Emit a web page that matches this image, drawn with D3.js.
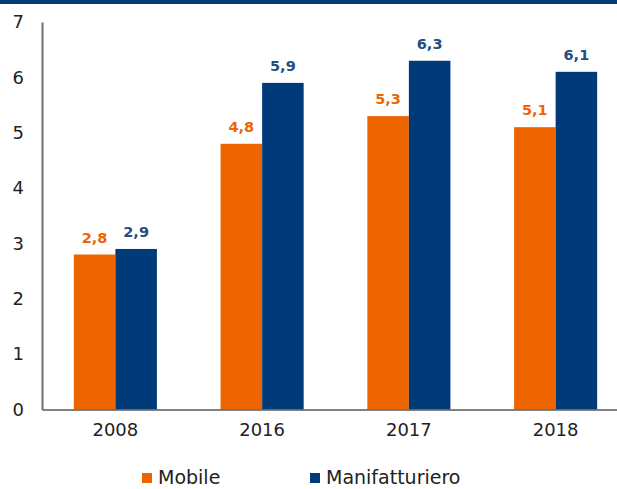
<!DOCTYPE html>
<html>
<head>
<meta charset="utf-8">
<script src="https://cdn.jsdelivr.net/npm/d3@7"></script>
<style>
  body { margin: 0; background: #fff; }
  svg text { font-family: "DejaVu Sans", sans-serif; }
</style>
</head>
<body>
<div id="chart"></div>
<script>
const WIDTH = 617;
const HEIGHT = 489;
const MARGINS = {left: 42, right: -12, top: 22, bottom: 79};

// data
const years = ["2008", "2016", "2017", "2018"];
const series = ["Mobile", "Manifatturiero"];
const mobile = [2.8, 4.8, 5.3, 5.1];
const manifatturiero = [2.9, 5.9, 6.3, 6.1];
const yTicks = [0, 1, 2, 3, 4, 5, 6, 7];

const COLORS = {Mobile: "#ee6500", Manifatturiero: "#003a78"};
const LABEL_COLORS = {Mobile: "#ee6500", Manifatturiero: "#244e7e"};

const svg = d3.select("#chart")
  .append("svg")
    .attr("width", WIDTH)
    .attr("height", HEIGHT);

// navy band across the top
svg.append("rect")
  .attr("x", 0).attr("y", 0)
  .attr("width", WIDTH).attr("height", 4)
  .attr("fill", "#003a78");

const X_SCALE = d3.scaleBand()
  .domain(years)
  .range([MARGINS.left, WIDTH - MARGINS.right]);

const X_INNER = d3.scaleBand()
  .domain(series)
  .range([0, X_SCALE.bandwidth() * 0.566]);

const Y_SCALE = d3.scaleLinear()
  .domain([0, 7])
  .range([HEIGHT - MARGINS.bottom - 0.5, MARGINS.top]);

// y axis
const yAxis = svg.append("g")
  .attr("transform", "translate(" + MARGINS.left + ",0)")
  .call(d3.axisLeft(Y_SCALE).tickValues(yTicks).tickFormat(d3.format("d"))
    .tickSize(0).tickPadding(18));
yAxis.select(".domain").attr("stroke", "#6f6f6f").attr("stroke-width", 2);
yAxis.selectAll("text")
  .attr("font-size", "18px")
  .attr("fill", "#222");

// bars, grouped by year
const rows = years.map((y, i) => ({year: y, Mobile: mobile[i], Manifatturiero: manifatturiero[i]}));

const groups = svg.selectAll(".grp")
  .data(rows)
  .enter()
  .append("g")
    .attr("class", "grp")
    .attr("transform", (d) => "translate(" +
      (X_SCALE(d.year) + (X_SCALE.bandwidth() - X_INNER.range()[1]) / 2) + ",0)");

groups.selectAll("rect")
  .data((d) => series.map((s) => ({key: s, value: d[s]})))
  .enter()
  .append("rect")
    .attr("x", (d) => X_INNER(d.key))
    .attr("y", (d) => Y_SCALE(d.value))
    .attr("width", X_INNER.bandwidth())
    .attr("height", (d) => Y_SCALE(0) - Y_SCALE(d.value))
    .attr("fill", (d) => COLORS[d.key]);

groups.selectAll(".val")
  .data((d) => series.map((s) => ({key: s, value: d[s]})))
  .enter()
  .append("text")
    .attr("class", "val")
    .attr("x", (d) => X_INNER(d.key) + X_INNER.bandwidth() / 2)
    .attr("y", (d) => Y_SCALE(d.value) - 12)
    .attr("text-anchor", "middle")
    .attr("font-size", "14.5px")
    .attr("font-weight", "bold")
    .attr("fill", (d) => LABEL_COLORS[d.key])
    .text((d) => d3.format(".1f")(d.value).replace(".", ","));

// x axis
const xAxis = svg.append("g")
  .attr("transform", "translate(0," + Y_SCALE(0) + ")")
  .call(d3.axisBottom(X_SCALE).tickSize(0).tickPadding(14));
xAxis.select(".domain").attr("stroke", "#595959").attr("stroke-width", 1.5);
xAxis.selectAll("text")
  .attr("font-size", "18px")
  .attr("fill", "#222");

// legend
const legendX = [142, 310];
const legend = svg.selectAll(".leg")
  .data(series)
  .enter()
  .append("g")
    .attr("class", "leg")
    .attr("transform", (d, i) => "translate(" + legendX[i] + ",473)");
legend.append("rect")
  .attr("width", 10).attr("height", 10)
  .attr("fill", (d) => COLORS[d]);
legend.append("text")
  .attr("x", 16).attr("y", 11)
  .attr("font-size", "19px")
  .attr("fill", "#222")
  .text((d) => d);
</script>
</body>
</html>
